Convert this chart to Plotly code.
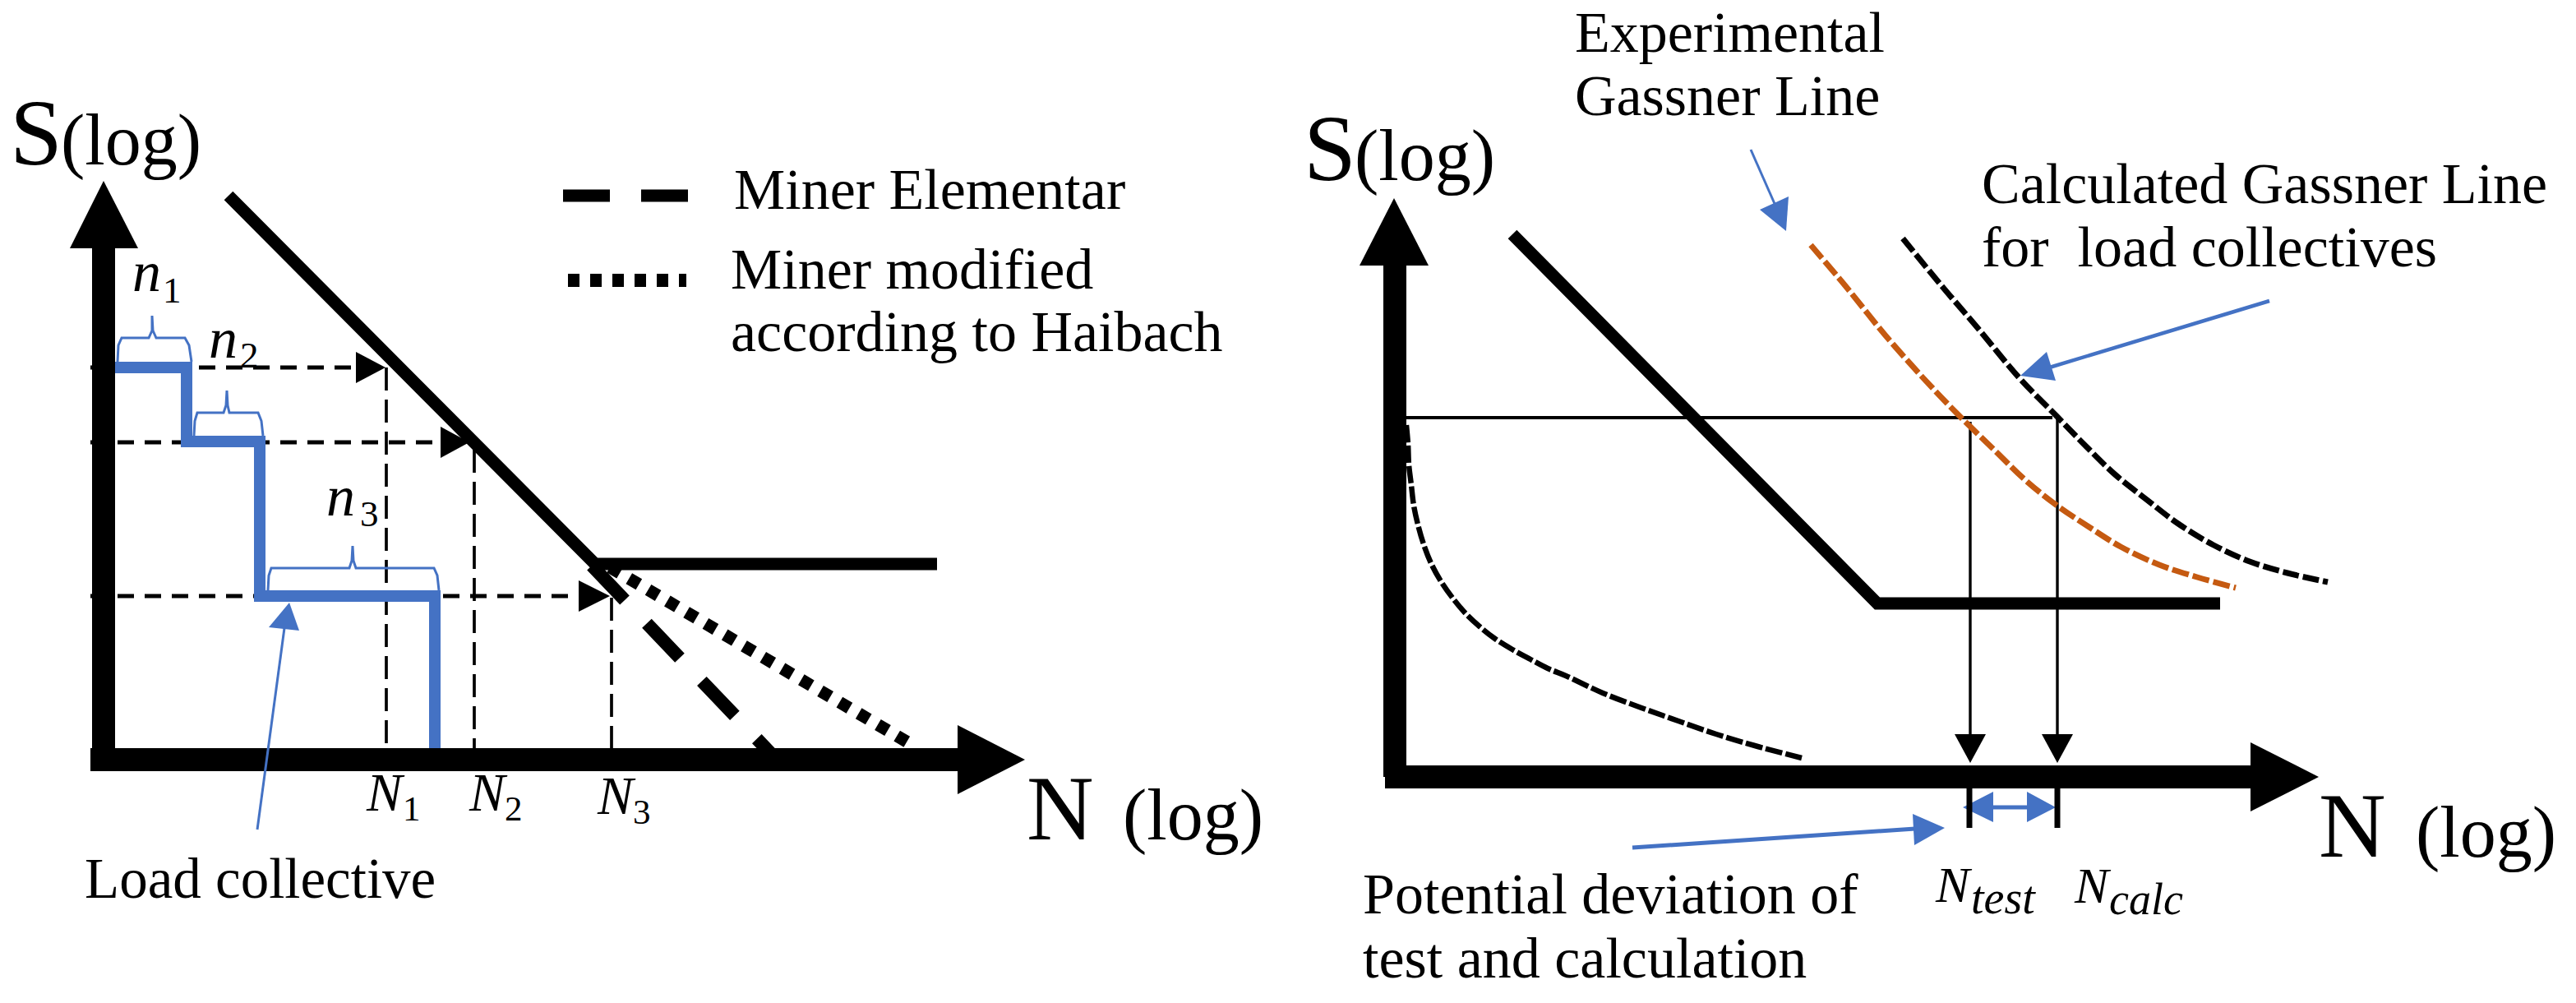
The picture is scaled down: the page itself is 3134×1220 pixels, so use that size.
import plotly.graph_objects as go

# ==========================================
# 1. DATA (image pixel scale)
# ==========================================
BLACK = "#000000"
BLUE = "#4472C4"
ORANGE = "#C55A11"
SERIF = "Liberation Serif"

# left panel
left_yaxis_x = [126, 126]
left_yaxis_y = [924, 302]
left_yaxis_head_x = [85, 126, 168]
left_yaxis_head_y = [302, 220, 302]
left_xaxis_x = [110, 1165]
left_xaxis_y = [924, 924]
left_xaxis_head_x = [1165, 1247, 1165]
left_xaxis_head_y = [882, 924, 966]
sn_x = [278, 724, 1140]
sn_y = [238, 686, 686]
elementar_x = [720, 945]
elementar_y = [688, 924]
haibach_x = [742, 1108]
haibach_y = [690, 905]
load_x = [140, 227, 227, 316, 316, 529, 529]
load_y = [447, 447, 537, 537, 725, 725, 910]
guide_h_x = [[110, 436], [110, 538], [110, 706]]
guide_h_y = [[447, 447], [538, 538], [725, 725]]
guide_v_x = [[470, 470], [577, 577], [744, 744]]
guide_v_y = [[447, 910], [547, 910], [727, 910]]
guide_head_x = [[433, 469, 433], [536, 571, 536], [704, 742, 704]]
guide_head_y = [[428, 447, 466], [519, 538, 557], [706, 725, 744]]
brace_x = [
    [143, 144, 148, 181, 185, 185, 186, 190, 225, 230, 233],
    [236, 237, 240, 272, 275, 276, 277, 279, 314, 318, 320],
    [326, 327, 330, 425, 428, 429, 430, 433, 528, 532, 534],
]
brace_y = [
    [440, 420, 411, 411, 402, 384, 402, 411, 411, 420, 440],
    [530, 512, 502, 502, 493, 475, 493, 502, 502, 512, 530],
    [718, 700, 691, 691, 682, 664, 682, 691, 691, 700, 718],
]
legend_dash_x = [685, 837]
legend_dash_y = [238, 238]
legend_dot_x = [691, 835]
legend_dot_y = [341, 341]
load_arrow_x = [313, 346]
load_arrow_y = [1009, 764]
load_head_x = [327, 352, 364]
load_head_y = [763, 733, 767]

# right panel
right_yaxis_x = [1697, 1697]
right_yaxis_y = [945, 323]
right_yaxis_head_x = [1654, 1696, 1738]
right_yaxis_head_y = [323, 241, 323]
right_xaxis_x = [1685, 2738]
right_xaxis_y = [945, 945]
right_xaxis_head_x = [2738, 2821, 2738]
right_xaxis_head_y = [903, 945, 987]
sn2_x = [1840, 2284, 2701]
sn2_y = [285, 734, 734]
level_x = [1705, 2497]
level_y = [508, 508]
drop_x = [[2397, 2397], [2503, 2503]]
drop_y = [[513, 895], [505, 895]]
drop_head_x = [[2378, 2397, 2416], [2484, 2503, 2522]]
drop_head_y = [[893, 928, 893], [893, 928, 893]]
tick_x = [[2396, 2396], [2503, 2503]]
tick_y = [[959, 1007], [959, 1007]]
experimental_x = [2203, 2247, 2293, 2340, 2380, 2427, 2463, 2500, 2540, 2580, 2627, 2673, 2720]
experimental_y = [298, 350, 407, 460, 502, 548, 583, 613, 640, 665, 687, 702, 715]
calculated_x = [2315, 2360, 2407, 2457, 2503, 2538, 2573, 2612, 2650, 2693, 2737, 2783, 2832]
calculated_y = [290, 345, 400, 460, 507, 543, 577, 608, 637, 663, 683, 697, 708]
spectrum_x = [1711, 1713, 1714, 1717, 1720, 1725, 1732, 1741, 1753, 1767, 1782, 1800, 1819,
              1840, 1862, 1883, 1905, 1950, 1997, 2042, 2088, 2135, 2192]
spectrum_y = [517, 540, 565, 590, 615, 638, 662, 685, 707, 727, 745, 762, 777,
              790, 802, 813, 822, 843, 861, 877, 893, 907, 922]
gap_x = [2420, 2475]
gap_y = [982, 982]
gap_head_left_x = [2425, 2388, 2425]
gap_head_left_y = [963, 982, 1000]
gap_head_right_x = [2466, 2501, 2466]
gap_head_right_y = [963, 982, 1000]
exp_arrow_x = [2130, 2160]
exp_arrow_y = [182, 250]
exp_head_x = [2141, 2173, 2176]
exp_head_y = [255, 281, 239]
calc_arrow_x = [2761, 2490]
calc_arrow_y = [366, 448]
calc_head_x = [2490, 2458, 2501]
calc_head_y = [428, 457, 463]
dev_arrow_x = [1986, 2330]
dev_arrow_y = [1031, 1008]
dev_head_x = [2327, 2366, 2329]
dev_head_y = [990, 1007, 1028]

# text: label, left edge, baseline, size
labels = [
    ("S", 11, 201, 115),
    ("(log)", 73, 201, 88),
    ("N", 1248, 1022, 113),
    ("(log)", 1365, 1022, 88),
    ("Miner Elementar", 892, 255, 70),
    ("Miner modified", 888, 352, 70),
    ("according to Haibach", 888, 428, 70),
    ("Load collective", 102, 1093, 69),
    ("<i>n</i>", 160, 355, 70),
    ("1", 197, 369, 45),
    ("<i>n</i>", 253, 436, 70),
    ("2", 291, 448, 45),
    ("<i>n</i>", 396, 628, 70),
    ("3", 437, 641, 45),
    ("<i>N</i>", 444, 987, 65),
    ("1", 489, 999, 43),
    ("<i>N</i>", 569, 987, 65),
    ("2", 613, 999, 43),
    ("<i>N</i>", 725, 991, 65),
    ("3", 769, 1003, 43),
    ("S", 1585, 220, 115),
    ("(log)", 1647, 220, 88),
    ("N", 2820, 1043, 113),
    ("(log)", 2938, 1043, 88),
    ("Experimental", 1915, 64, 70),
    ("Gassner Line", 1915, 141, 70),
    ("Calculated Gassner Line", 2410, 248, 70),
    ("for  load collectives", 2410, 325, 70),
    ("Potential deviation of", 1657, 1112, 70),
    ("test and calculation", 1657, 1190, 70),
    ("<i>N</i>", 2353, 1098, 62),
    ("<i>test</i>", 2397, 1112, 56),
    ("<i>N</i>", 2522, 1099, 62),
    ("<i>calc</i>", 2565, 1113, 54),
]

fig = go.Figure()


def add_line(x, y, color=BLACK, width=4, dash="solid", shape="linear"):
    fig.add_trace(go.Scatter(
        x=x, y=y,
        mode="lines",
        line=dict(color=color, width=width, dash=dash, shape=shape),
        hoverinfo="skip",
        showlegend=False,
    ))


def add_head(x, y, color=BLACK):
    fig.add_trace(go.Scatter(
        x=x, y=y,
        mode="none",
        fill="toself",
        fillcolor=color,
        hoverinfo="skip",
        showlegend=False,
    ))


# ==========================================
# 2. LEFT PANEL
# ==========================================
for hx, hy in zip(guide_h_x, guide_h_y):
    add_line(hx, hy, width=5, dash="20px,13px")
for vx, vy in zip(guide_v_x, guide_v_y):
    add_line(vx, vy, width=3.7, dash="28px,11px")
for hx, hy in zip(guide_head_x, guide_head_y):
    add_head(hx, hy)
add_line(elementar_x, elementar_y, width=16, dash="58px,39px")
add_line(haibach_x, haibach_y, width=15, dash="14px,13px")
add_line(sn_x, sn_y, width=15)
add_line(load_x, load_y, color=BLUE, width=14)
for bx, by in zip(brace_x, brace_y):
    add_line(bx, by, color=BLUE, width=3)
add_line(left_yaxis_x, left_yaxis_y, width=28)
add_line(left_xaxis_x, left_xaxis_y, width=28)
add_head(left_yaxis_head_x, left_yaxis_head_y)
add_head(left_xaxis_head_x, left_xaxis_head_y)
add_line(legend_dash_x, legend_dash_y, width=15, dash="57px,38px")
add_line(legend_dot_x, legend_dot_y, width=16, dash="14px,13px")
add_line(load_arrow_x, load_arrow_y, color=BLUE, width=3)
add_head(load_head_x, load_head_y, color=BLUE)

# ==========================================
# 3. RIGHT PANEL
# ==========================================
add_line(sn2_x, sn2_y, width=15)
add_line(level_x, level_y, width=4)
for dx, dy in zip(drop_x, drop_y):
    add_line(dx, dy, width=3.4)
for hx, hy in zip(drop_head_x, drop_head_y):
    add_head(hx, hy)
add_line(experimental_x, experimental_y, color=ORANGE, width=7, dash="21px,5px", shape="spline")
add_line(calculated_x, calculated_y, width=7, dash="20px,5px", shape="spline")
add_line(spectrum_x, spectrum_y, width=6.5, dash="21px,4px", shape="spline")
add_line(right_yaxis_x, right_yaxis_y, width=28)
add_line(right_xaxis_x, right_xaxis_y, width=28)
add_head(right_yaxis_head_x, right_yaxis_head_y)
add_head(right_xaxis_head_x, right_xaxis_head_y)
add_line(gap_x, gap_y, color=BLUE, width=5)
add_head(gap_head_left_x, gap_head_left_y, color=BLUE)
add_head(gap_head_right_x, gap_head_right_y, color=BLUE)
for tx, ty in zip(tick_x, tick_y):
    add_line(tx, ty, width=7)
add_line(exp_arrow_x, exp_arrow_y, color=BLUE, width=3)
add_head(exp_head_x, exp_head_y, color=BLUE)
add_line(calc_arrow_x, calc_arrow_y, color=BLUE, width=4.5)
add_head(calc_head_x, calc_head_y, color=BLUE)
add_line(dev_arrow_x, dev_arrow_y, color=BLUE, width=5)
add_head(dev_head_x, dev_head_y, color=BLUE)

# ==========================================
# 4. TEXT
# ==========================================
for text, x0, base, size in labels:
    fig.add_annotation(
        x=x0, y=base + 0.216 * size,
        xref="x", yref="y",
        text=text,
        showarrow=False,
        xanchor="left", yanchor="bottom",
        borderpad=0,
        font=dict(family=SERIF, size=size, color=BLACK),
    )

# ==========================================
# 5. LAYOUT
# ==========================================
fig.update_layout(
    width=3134,
    height=1220,
    margin=dict(l=0, r=0, t=0, b=0),
    plot_bgcolor="white",
    paper_bgcolor="white",
    showlegend=False,
    xaxis=dict(range=[0, 3134], visible=False, fixedrange=True),
    yaxis=dict(range=[1220, 0], visible=False, fixedrange=True),
)

fig.write_html("out.html", post_script="document.body.style.margin='0';", config=dict(displayModeBar=False))
